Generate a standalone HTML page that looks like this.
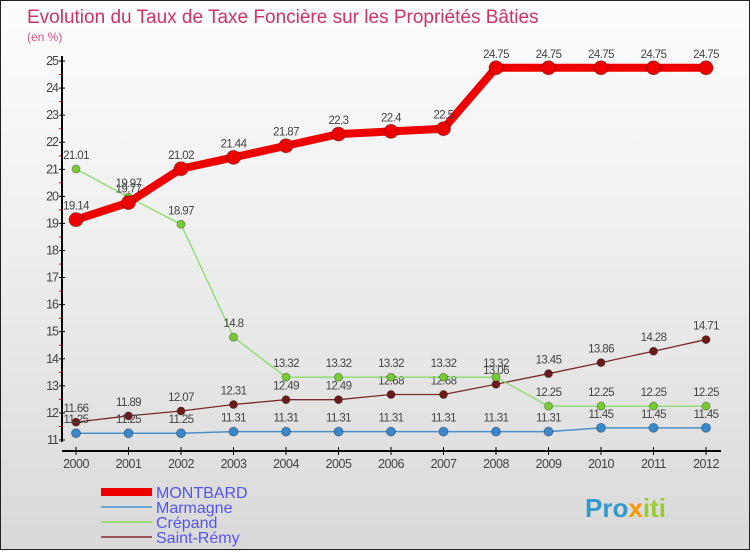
<!DOCTYPE html>
<html><head><meta charset="utf-8">
<style>
html,body{margin:0;padding:0}
body{width:750px;height:550px;overflow:hidden;font-family:"Liberation Sans",sans-serif}
#wrap{position:absolute;left:0;top:0;width:748px;height:548px;border:1px solid #222;background:linear-gradient(#fdfdfd,#f0f0f0 40%,#d9d9d9)}
</style></head><body>
<div id="wrap">
<svg id="chart" width="748" height="548" font-family="Liberation Sans, sans-serif">
<text x="26" y="22" font-size="19" fill="#cc3366">Evolution du Taux de Taxe Foncière sur les Propriétés Bâties</text>
<text x="26" y="40" font-size="12" fill="#cc5588">(en %)</text>
<g id="axes"></g>
<g id="series"></g>
<g id="legend"></g>
<text x="584" y="516" font-size="26" font-weight="bold" fill="#3399cc">Pro<tspan fill="#ff9900">x</tspan><tspan fill="#99cc33">iti</tspan></text>
</svg>
</div>
<script>
const years=[2000,2001,2002,2003,2004,2005,2006,2007,2008,2009,2010,2011,2012];
const yTicks=[11,12,13,14,15,16,17,18,19,20,21,22,23,24,25];
const montbard=[19.14,19.77,21.02,21.44,21.87,22.3,22.4,22.5,24.75,24.75,24.75,24.75,24.75];
const marmagne=[11.25,11.25,11.25,11.31,11.31,11.31,11.31,11.31,11.31,11.31,11.45,11.45,11.45];
const crepand=[21.01,19.97,18.97,14.8,13.32,13.32,13.32,13.32,13.32,12.25,12.25,12.25,12.25];
const saintremy=[11.66,11.89,12.07,12.31,12.49,12.49,12.68,12.68,13.06,13.45,13.86,14.28,14.71];
const NS="http://www.w3.org/2000/svg";
function X(i){return 75+i*52.5;}
function Y(v){return 439-(v-11)*27.07;}
function mk(tag,attrs,parent){const e=document.createElementNS(NS,tag);for(const k in attrs)e.setAttribute(k,attrs[k]);parent.appendChild(e);return e;}
const axes=document.getElementById('axes');
let e=mk('line',{x1:61,y1:55,x2:61,y2:441,stroke:'#000','stroke-width':2},axes);


e=mk('line',{x1:61,y1:450,x2:720,y2:450,stroke:'#000','stroke-width':2},axes);


yTicks.forEach(v=>{
  mk('line',{x1:58,x2:64,y1:Y(v),y2:Y(v),stroke:'#000'},axes);
  if(v<25) mk('line',{x1:58,x2:60,y1:Y(v+0.5),y2:Y(v+0.5),stroke:'#e00'},axes);
  const t=mk('text',{x:57,y:Y(v)+4,'font-size':12.5,'text-anchor':'end',fill:'#444','letter-spacing':-1},axes);
  t.textContent=v;
  
  
});
years.forEach((yr,i)=>{
  mk('line',{x1:X(i),x2:X(i),y1:446,y2:454,stroke:'#000'},axes);
  const t=mk('text',{x:X(i),y:467,'font-size':12.5,'text-anchor':'middle',fill:'#444','letter-spacing':-0.5},axes);
  t.textContent=yr;
  
  
});
const sg=document.getElementById('series');
const defs=[
 {name:'saint-remy',data:saintremy,color:'#7a2a2a',w:1.3,r:4,fill:'#6b1a1a'},
 {name:'crepand',data:crepand,color:'#88dd66',w:1.3,r:4,fill:'#77cc33'},
 {name:'marmagne',data:marmagne,color:'#4a90c8',w:1.5,r:4.5,fill:'#3a88cc'},
 {name:'montbard',data:montbard,color:'#ee0000',w:8,r:7,fill:'#ee0000'}
];
defs.forEach(s=>{
  const g=mk('g',{},sg);
  
  
  const pts=s.data.map((v,i)=>X(i)+','+Y(v)).join(' ');
  const pl=mk('polyline',{points:pts,fill:'none',stroke:s.color,'stroke-width':s.w,'stroke-linejoin':'round'},g);
  
  
  s.data.forEach((v,i)=>{
    const c=mk('circle',{cx:X(i),cy:Y(v),r:s.r,fill:s.fill,stroke:'rgba(0,0,0,0.3)'},g);
    
    
    const t=mk('text',{x:X(i),y:Y(v)-10,'font-size':11.5,'text-anchor':'middle',fill:'#444','letter-spacing':-0.6},g);
    t.textContent=v;
    
    
  });
});
const lg=document.getElementById('legend');
const leg=[['MONTBARD','#ee0000',8],['Marmagne','#6aa6d0',2],['Crépand','#99dd77',2],['Saint-Rémy','#995555',2]];
leg.forEach((l,i)=>{
  const y=491+i*15;
  const ln=mk('line',{x1:100,x2:151,y1:y,y2:y,stroke:l[1],'stroke-width':l[2]},lg);
  
  
  const t=mk('text',{x:155,y:y+6,'font-size':16,fill:'#5555ee'},lg);
  t.textContent=l[0];
  
  
});
</script>
</body></html>
